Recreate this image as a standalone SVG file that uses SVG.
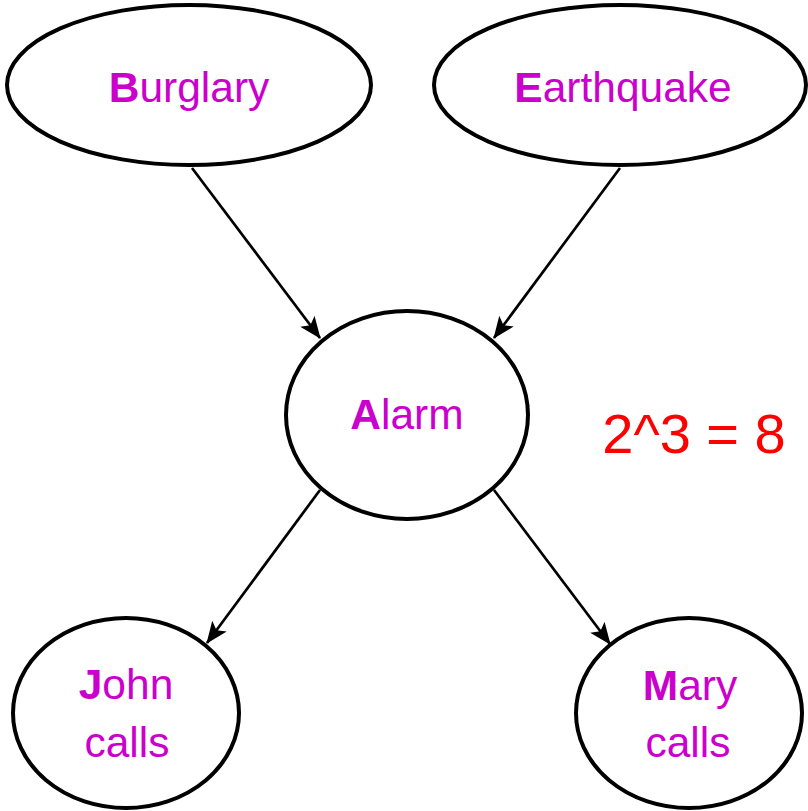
<svg xmlns="http://www.w3.org/2000/svg" width="808" height="811" viewBox="0 0 808 811">
<style>
.node{fill:#fff;stroke:#000;stroke-width:4}
.lbl{font-family:"Liberation Sans",Arial,sans-serif;font-size:42.5px;fill:#CC00CC;text-anchor:middle}
.lbl tspan.b{font-weight:bold}
.edge{stroke:#000;stroke-width:2.7;fill:none;marker-end:url(#ah)}
</style>
<defs>
<marker id="ah" markerUnits="userSpaceOnUse" markerWidth="22" markerHeight="18" viewBox="0 0 22 18" refX="21" refY="9" orient="auto">
<path d="M0,0 L22,9 L0,18 L5,9 Z" fill="#000"/>
</marker>
</defs>
<g id="connectors">
<line class="edge" x1="192" y1="168" x2="320" y2="338"/>
<line class="edge" x1="620" y1="168" x2="494" y2="338"/>
<line class="edge" x1="320" y1="490" x2="207" y2="643"/>
<line class="edge" x1="494" y1="490" x2="610" y2="644"/>
</g>
<g id="burglary">
<ellipse class="node" cx="189" cy="85" rx="182" ry="80"/>
<text class="lbl" x="189" y="102"><tspan class="b">B</tspan>urglary</text>
</g>
<g id="earthquake">
<ellipse class="node" cx="620" cy="85" rx="186" ry="80"/>
<text class="lbl" x="623" y="102"><tspan class="b">E</tspan>arthquake</text>
</g>
<g id="alarm">
<ellipse class="node" cx="407" cy="415" rx="121" ry="104"/>
<text class="lbl" x="407" y="429"><tspan class="b">A</tspan>larm</text>
</g>
<g id="john">
<ellipse class="node" cx="126" cy="713" rx="113" ry="95"/>
<text class="lbl" x="126" y="699"><tspan class="b">J</tspan>ohn</text>
<text class="lbl" x="127" y="757">calls</text>
</g>
<g id="mary">
<ellipse class="node" cx="689" cy="713" rx="113" ry="95"/>
<text class="lbl" x="690" y="700"><tspan class="b">M</tspan>ary</text>
<text class="lbl" x="688" y="757">calls</text>
</g>
<text x="694" y="453" font-family="'Liberation Sans',Arial,sans-serif" font-size="56" fill="#FF0000" text-anchor="middle">2^3 = 8</text>
</svg>
